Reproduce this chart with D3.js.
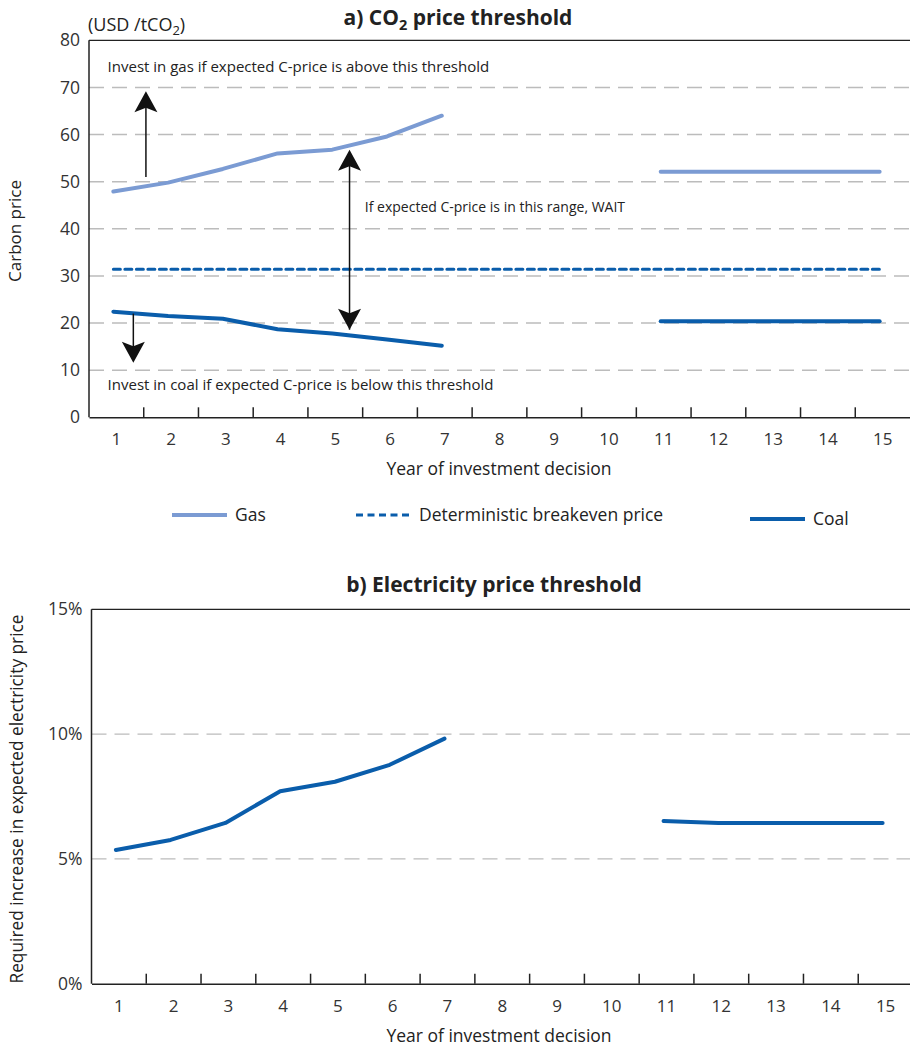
<!DOCTYPE html>
<html>
<head>
<meta charset="utf-8">
<script src="https://cdn.jsdelivr.net/npm/d3@7"></script>
<style>
  body { margin: 0; background: #fff; }
  svg { display: block; font-family: "Open Sans", "Noto Sans", sans-serif; }
</style>
</head>
<body>
<svg id="chart" width="910" height="1048"></svg>
<script>
// ---------- data ----------
const years = [1,2,3,4,5,6,7,8,9,10,11,12,13,14,15];
const gasEarly = [[1,47.9],[2,49.8],[3,52.7],[4,56.0],[5,56.8],[6,59.6],[7,64.0]];
const gasLate = [[11,52.1],[12,52.1],[13,52.1],[14,52.1],[15,52.1]];
const coalEarly = [[1,22.4],[2,21.5],[3,20.9],[4,18.7],[5,17.8],[6,16.5],[7,15.2]];
const coalLate = [[11,20.4],[12,20.4],[13,20.4],[14,20.4],[15,20.4]];
const breakeven = [[1,31.4],[15,31.4]];
const co2Ticks = [0,10,20,30,40,50,60,70,80];
const co2Grid = [10,20,30,40,50,60,70];

const elecEarly = [[1,0.0536],[2,0.0576],[3,0.0644],[4,0.0771],[5,0.0809],[6,0.0877],[7,0.0982]];
const elecLate = [[11,0.0652],[12,0.0644],[13,0.0644],[14,0.0644],[15,0.0644]];
const elecTicks = [0,0.05,0.10,0.15];
const elecGrid = [0.05,0.10];

// annotation arrows (year position, value from, value to)
const arrows = [
  {x: 1.54, from: 51.0, to: 69.2, heads: ["end"]},
  {x: 5.26, from: 18.6, to: 56.8, heads: ["start","end"]},
  {x: 1.31, from: 22.0, to: 11.6, heads: ["end"]}
];
const notes = [
  {x: 0.84, y: 73.3, size: 15, text: "Invest in gas if expected C-price is above this threshold"},
  {x: 5.54, y: 43.5, size: 14, text: "If expected C-price is in this range, WAIT"},
  {x: 0.84, y: 5.8, size: 15, text: "Invest in coal if expected C-price is below this threshold"}
];
const legendItems = [
  {label: "Gas", color: "#7b9bd3", dash: null, x: 172, y: 515, w: 55},
  {label: "Deterministic breakeven price", color: "#0a5dab", dash: "7,4.5", x: 356, y: 515, w: 55},
  {label: "Coal", color: "#0a5dab", dash: null, x: 750, y: 519, w: 55}
];

const GAS = "#7b9bd3", COAL = "#0a5dab", GRID = "#bcbcbc", AXIS = "#222", TXT = "#222";
const svg = d3.select("#chart");

function panel(opts) {
  const g = svg.append("g");
  const x = d3.scaleBand().domain(years).range([opts.left, opts.right]).paddingInner(0).paddingOuter(0);
  const y = d3.scaleLinear().domain(opts.yDomain).range([opts.bottom, opts.top]);
  const cx = v => x(1) + x.bandwidth()/2 + (v-1)*x.bandwidth() - 3;

  // grid
  g.selectAll(".grid").data(opts.grid).join("line")
    .attr("x1", opts.left).attr("x2", opts.right)
    .attr("y1", d => y(d)).attr("y2", d => y(d))
    .attr("stroke", GRID).attr("stroke-width", 1.4).attr("stroke-dasharray", "15,8");

  // frame: top, left
  g.append("line").attr("x1", opts.left).attr("x2", opts.right)
    .attr("y1", opts.top).attr("y2", opts.top).attr("stroke", AXIS).attr("stroke-width", 1.3);
  g.append("line").attr("x1", opts.left).attr("x2", opts.left)
    .attr("y1", opts.top).attr("y2", opts.bottom).attr("stroke", AXIS).attr("stroke-width", 1.5);

  // bottom axis with ticks between categories
  const xAxis = d3.axisBottom(x).tickSize(0).tickPadding(16);
  const ax = g.append("g").attr("transform", `translate(0,${opts.bottom})`).call(xAxis);
  ax.select(".domain").attr("stroke", AXIS).attr("stroke-width", 1.5);
  ax.selectAll("text").attr("font-size", 17).attr("fill", "#333").attr("font-family", "Open Sans");
  g.selectAll(".xt").data(years.slice(1)).join("line")
    .attr("x1", d => x(d)).attr("x2", d => x(d))
    .attr("y1", opts.bottom).attr("y2", opts.bottom - 10)
    .attr("stroke", AXIS).attr("stroke-width", 1.5);

  // left axis labels
  const yAxis = d3.axisLeft(y).tickValues(opts.ticks).tickSize(0).tickPadding(9).tickFormat(opts.fmt);
  const ay = g.append("g").attr("transform", `translate(${opts.left},0)`).call(yAxis);
  ay.select(".domain").remove();
  ay.selectAll("text").attr("font-size", 17.5).attr("fill", "#333").attr("font-family", "Open Sans");

  return {g, x, y, cx};
}

function drawLine(p, data, color, width, dash) {
  const line = d3.line().x(d => p.cx(d[0])).y(d => p.y(d[1]));
  p.g.append("path").datum(data).attr("d", line)
    .attr("fill", "none").attr("stroke", color).attr("stroke-width", width)
    .attr("stroke-linecap", "round").attr("stroke-linejoin", "round")
    .attr("stroke-dasharray", dash || null);
}

// ---------- panel a ----------
const A = panel({left: 89, right: 910, top: 40.3, bottom: 417.3, yDomain: [0,80],
  grid: co2Grid, ticks: co2Ticks, fmt: d3.format("d")});

drawLine(A, breakeven, COAL, 3, "7,4.5");
drawLine(A, gasEarly, GAS, 4);
drawLine(A, gasLate, GAS, 4);
drawLine(A, coalEarly, COAL, 4);
drawLine(A, coalLate, COAL, 4);

// arrows
const head = "M0,0 L-11.5,21 L0,16.5 L11.5,21 Z";
arrows.forEach(a => {
  const xp = A.cx(a.x) + 3;
  const y1 = A.y(a.from), y2 = A.y(a.to);
  A.g.append("line").attr("x1", xp).attr("x2", xp).attr("y1", y1).attr("y2", y2 + (y2 < y1 ? 10 : -10))
    .attr("stroke", "#111").attr("stroke-width", 1.5);
  a.heads.forEach(h => {
    const tipY = h === "end" ? y2 : y1;
    const other = h === "end" ? y1 : y2;
    const rot = tipY < other ? 0 : 180;
    A.g.append("path").attr("d", head).attr("fill", "#111")
      .attr("transform", `translate(${xp},${tipY}) rotate(${rot})`);
  });
});

// notes
notes.forEach(n => {
  A.g.append("text").attr("x", A.cx(n.x) + 3).attr("y", A.y(n.y))
    .attr("font-size", n.size).attr("fill", TXT).attr("font-family", "Open Sans")
    .text(n.text);
});

// titles a
const ta = svg.append("text").attr("x", 458).attr("y", 25).attr("text-anchor", "middle")
  .attr("font-size", 21).attr("font-weight", "bold").attr("fill", TXT);
ta.append("tspan").text("a) CO");
ta.append("tspan").attr("font-size", 14.5).attr("dy", 5).text("2");
ta.append("tspan").attr("dy", -5).text(" price threshold");

const unit = svg.append("text").attr("x", 88).attr("y", 31).attr("font-size", 18).attr("fill", TXT);
unit.append("tspan").text("(USD /tCO");
unit.append("tspan").attr("font-size", 13).attr("dy", 4).text("2");
unit.append("tspan").attr("dy", -4).text(")");

svg.append("text").attr("transform", "translate(21,231) rotate(-90)")
  .attr("text-anchor", "middle").attr("font-size", 17).attr("fill", TXT).text("Carbon price");
svg.append("text").attr("x", 499).attr("y", 475).attr("text-anchor", "middle")
  .attr("font-size", 17.5).attr("fill", TXT).text("Year of investment decision");

// legend
legendItems.forEach(l => {
  svg.append("line").attr("x1", l.x).attr("x2", l.x + l.w).attr("y1", l.y).attr("y2", l.y)
    .attr("stroke", l.color).attr("stroke-width", l.dash ? 3 : 4)
    .attr("stroke-dasharray", l.dash);
  svg.append("text").attr("x", l.x + l.w + 8).attr("y", l.y + 6)
    .attr("font-size", 17.5).attr("fill", TXT).text(l.label);
});

// ---------- panel b ----------
const B = panel({left: 91.5, right: 913, top: 609.3, bottom: 983.7, yDomain: [0,0.15],
  grid: elecGrid, ticks: elecTicks, fmt: d3.format(".0%")});
drawLine(B, elecEarly, COAL, 4);
drawLine(B, elecLate, COAL, 4);

svg.append("text").attr("x", 494).attr("y", 592).attr("text-anchor", "middle")
  .attr("font-size", 21).attr("font-weight", "bold").attr("fill", TXT).text("b) Electricity price threshold");
svg.append("text").attr("transform", "translate(23,799) rotate(-90)")
  .attr("text-anchor", "middle").attr("font-size", 17.3).attr("fill", TXT)
  .text("Required increase in expected electricity price");
svg.append("text").attr("x", 499).attr("y", 1042).attr("text-anchor", "middle")
  .attr("font-size", 17.5).attr("fill", TXT).text("Year of investment decision");
</script>
</body>
</html>
